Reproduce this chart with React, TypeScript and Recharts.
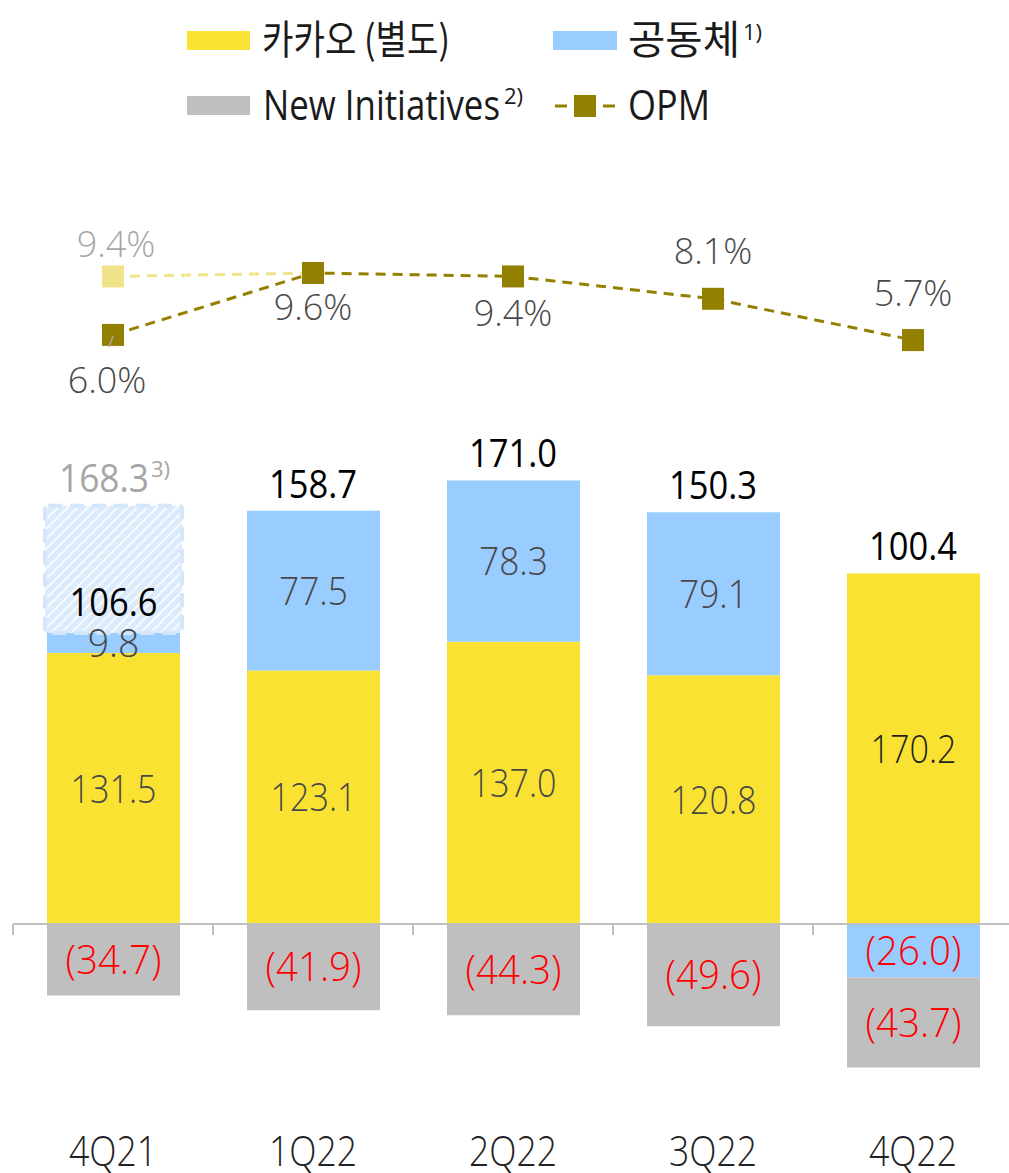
import React from "react";
import {
  ComposedChart,
  Bar,
  Line,
  XAxis,
  YAxis,
  ReferenceLine,
  LabelList,
} from "recharts";

// quarterly operating profit breakdown (KRW bn)
const quarters = ["4Q21", "1Q22", "2Q22", "3Q22", "4Q22"];
const kakao = [131.5, 123.1, 137.0, 120.8, 170.2];
const group = [9.8, 77.5, 78.3, 79.1, -26.0];
const newInit = [-34.7, -41.9, -44.3, -49.6, -43.7];
const totals = [106.6, 158.7, 171.0, 150.3, 100.4];
const restatedTotals = [168.3, null, null, null, null];
const opm = [6.0, 9.6, 9.4, 8.1, 5.7];
const opmRestated = [9.4, 9.6, null, null, null];

const legendNames = ["카카오 (별도)", "공동체", "New Initiatives", "OPM"];
const legendNotes = ["", "1)", "2)", ""];

const YELLOW = "#F9E231";
const BLUE = "#99CCFF";
const GRAY = "#BFBFBF";
const OLIVE = "#948000";
const OLIVE_LIGHT = "#F1E38A";
const RED = "#FF0000";

const NUM = "'Open Sans', 'Noto Sans', sans-serif";
const KR = "'Noto Sans CJK KR', sans-serif";

const data = quarters.map((q, i) => {
  const restated = restatedTotals[i] != null ? (restatedTotals[i] as number) - totals[i] : 0;
  return {
    quarter: q,
    kakao: kakao[i],
    group: group[i],
    newInit: newInit[i],
    restated,
    stackTop: kakao[i] + Math.max(group[i], 0) + restated,
    opm: opm[i],
    opmOld: opmRestated[i],
  };
});

// label baselines relative to the marker
const opmLabelDy = [58, 47, 50, -35, -34];

const fmtNeg = (v: number) => `(${Math.abs(v).toFixed(1)})`;

// narrow numerals: squeeze glyphs to the reference's width
const Num = ({ x, y, s, size, per, weight = 300, fill }: any) => (
  <text
    x={x}
    y={y}
    textAnchor="middle"
    fontFamily={NUM}
    fontWeight={weight}
    fontSize={size}
    fill={fill}
    textLength={s.length * per}
    lengthAdjust="spacingAndGlyphs"
  >
    {s}
  </text>
);

const segmentLabel = (values: number[]) => (props: any) => {
  const { x, y, width, height, index } = props;
  const v = values[index];
  if (!v) return null;
  const cx = x + width / 2;
  const cy = y + height / 2;
  if (v < 0) {
    return <Num x={cx} y={cy + 14} s={fmtNeg(v)} size={40} per={16} fill={RED} />;
  }
  const dark = values === kakao && index === quarters.length - 1;
  return <Num x={cx} y={cy + 14} s={v.toFixed(1)} size={39} per={17.2} fill={dark ? "#1f1f1f" : "#484848"} />;
};

const totalLabel = (props: any) => {
  const { x, y, index } = props;
  if (restatedTotals[index] != null) {
    const s = (restatedTotals[index] as number).toFixed(1);
    return (
      <g>
        <Num x={x - 9} y={y - 14} s={s} size={39} per={18} weight={400} fill="#A6A6A6" />
        <text x={x + 38} y={y - 29} fontFamily={NUM} fontSize={22} fill="#A6A6A6">3)</text>
      </g>
    );
  }
  return <Num x={x} y={y - 13} s={totals[index].toFixed(1)} size={39} per={17.6} weight={400} fill="#000" />;
};

const restatedInner = (props: any) => {
  const { x, y, width, height, index } = props;
  if (!restatedTotals[index]) return null;
  return <Num x={x + width / 2} y={y + height - 17} s={totals[index].toFixed(1)} size={39} per={17.6} weight={400} fill="#000" />;
};

const HatchShape = (props: any) => {
  const { x, y, width, height } = props;
  if (!height || Math.abs(height) < 1) return null;
  return (
    <rect
      x={x - 2}
      y={y}
      width={width + 4}
      height={height}
      fill="url(#restatedHatch)"
      stroke="#D3E6FA"
      strokeWidth={4}
      strokeDasharray="14 8"
      rx={3}
    />
  );
};

const SquareDot = (color: string) => (props: any) => {
  const { cx, cy, index } = props;
  if (cx == null || cy == null || Number.isNaN(cy)) return <g key={index} />;
  return <rect key={index} x={cx - 11} y={cy - 11} width={22} height={22} fill={color} />;
};

const opmLabel = (props: any) => {
  const { x, y, index } = props;
  const dy = opmLabelDy[index];
  return (
    <g>
      {index === 0 && <line x1={x} y1={y + 1} x2={x - 4} y2={y + 12} stroke="#A6A6A6" strokeWidth={1.5} />}
      <text x={index === 0 ? x - 6 : x} y={y + dy} textAnchor="middle" fontFamily={NUM} fontWeight={300} fontSize={36} fill="#4a4a4a">
        {opm[index].toFixed(1)}%
      </text>
    </g>
  );
};

const opmOldLabel = (props: any) => {
  const { x, y, index } = props;
  if (index !== 0 || opmRestated[index] == null) return null;
  return (
    <text x={x + 3} y={y - 19} textAnchor="middle" fontFamily={NUM} fontWeight={300} fontSize={36} fill="#A6A6A6">
      {(opmRestated[index] as number).toFixed(1)}%
    </text>
  );
};

const ZeroAxis = (props: any) => {
  const { x1, y1, x2 } = props;
  const step = (x2 - x1) / quarters.length;
  return (
    <g>
      <line x1={x1} y1={y1} x2={x2} y2={y1} stroke={GRAY} strokeWidth={2} />
      {quarters.map((q, i) => (
        <line key={q} x1={x1 + i * step} x2={x1 + i * step} y1={y1} y2={y1 + 11} stroke={GRAY} strokeWidth={2} />
      ))}
    </g>
  );
};

const QuarterTick = (props: any) => {
  const { x, y, payload } = props;
  return (
    <text
      x={x}
      y={y + 28}
      textAnchor="middle"
      fontFamily={NUM}
      fontWeight={300}
      fontSize={42}
      fill="#222"
      textLength={88}
      lengthAdjust="spacingAndGlyphs"
    >
      {payload.value}
    </text>
  );
};

function Legend() {
  const text = { fill: "#1a1a1a" };
  return (
    <svg width={1009} height={140} style={{ position: "absolute", left: 0, top: 0 }}>
      <rect x={187} y={31} width={63} height={19} fill={YELLOW} />
      <text x={262} y={54} fontFamily={KR} fontSize={40} textLength={188} lengthAdjust="spacingAndGlyphs" {...text}>
        {legendNames[0]}
      </text>
      <rect x={553} y={31} width={64} height={19} fill={BLUE} />
      <text x={628} y={54} fontFamily={KR} fontSize={40} textLength={112} lengthAdjust="spacingAndGlyphs" {...text}>
        {legendNames[1]}
      </text>
      <text x={743} y={40} fontFamily={NUM} fontSize={22} {...text}>
        {legendNotes[1]}
      </text>
      <rect x={187} y={96} width={63} height={19} fill={GRAY} />
      <text x={263} y={120} fontFamily={NUM} fontSize={42} textLength={237} lengthAdjust="spacingAndGlyphs" {...text}>
        {legendNames[2]}
      </text>
      <text x={504} y={104} fontFamily={NUM} fontSize={22} {...text}>
        {legendNotes[2]}
      </text>
      <line x1={555} y1={106} x2={615} y2={106} stroke={OLIVE} strokeWidth={3} strokeDasharray="12 36" />
      <rect x={574} y={95} width={22} height={22} fill={OLIVE} />
      <text x={628} y={120} fontFamily={NUM} fontSize={42} textLength={82} lengthAdjust="spacingAndGlyphs" {...text}>
        {legendNames[3]}
      </text>
    </svg>
  );
}

export default function App() {
  return (
    <div style={{ position: "absolute", left: 0, top: 0, width: 1009, height: 1173, overflow: "hidden", background: "#fff" }}>
      <ComposedChart
        width={1020}
        height={1173}
        data={data}
        margin={{ top: 203, right: 7, bottom: 13, left: 13 }}
        stackOffset="sign"
        barSize={133}
      >
        <defs>
          <pattern id="restatedHatch" width={7} height={7} patternUnits="userSpaceOnUse" patternTransform="rotate(45)">
            <rect width={7} height={7} fill="#DCEBFB" />
            <line x1={0} y1={0} x2={0} y2={7} stroke="#fff" strokeWidth={3} />
          </pattern>
        </defs>
        <XAxis dataKey="quarter" axisLine={false} tickLine={false} height={30} interval={0} tick={<QuarterTick />} />
        <YAxis yAxisId="bar" hide domain={[-100, 350]} allowDataOverflow />
        <YAxis yAxisId="opm" hide orientation="right" domain={[-40.23, 13.67]} allowDataOverflow />

        <Bar yAxisId="bar" dataKey="kakao" stackId="a" fill={YELLOW} isAnimationActive={false}>
          <LabelList content={segmentLabel(kakao)} />
        </Bar>
        <Bar yAxisId="bar" dataKey="group" stackId="a" fill={BLUE} isAnimationActive={false}>
          <LabelList content={segmentLabel(group)} />
        </Bar>
        <Bar yAxisId="bar" dataKey="newInit" stackId="a" fill={GRAY} isAnimationActive={false}>
          <LabelList content={segmentLabel(newInit)} />
        </Bar>
        <Bar yAxisId="bar" dataKey="restated" stackId="a" shape={<HatchShape />} isAnimationActive={false}>
          <LabelList content={restatedInner} />
        </Bar>

        <ReferenceLine yAxisId="bar" y={0} shape={<ZeroAxis />} />

        <Line yAxisId="bar" dataKey="stackTop" stroke="none" dot={false} activeDot={false} isAnimationActive={false}>
          <LabelList content={totalLabel} />
        </Line>

        <Line
          yAxisId="opm"
          dataKey="opmOld"
          stroke={OLIVE_LIGHT}
          strokeWidth={3}
          strokeDasharray="10 7"
          dot={SquareDot(OLIVE_LIGHT)}
          activeDot={false}
          isAnimationActive={false}
        >
          <LabelList content={opmOldLabel} />
        </Line>
        <Line
          yAxisId="opm"
          dataKey="opm"
          stroke={OLIVE}
          strokeWidth={3}
          strokeDasharray="10 7"
          dot={SquareDot(OLIVE)}
          activeDot={false}
          isAnimationActive={false}
        >
          <LabelList content={opmLabel} />
        </Line>
      </ComposedChart>
      <Legend />
    </div>
  );
}
